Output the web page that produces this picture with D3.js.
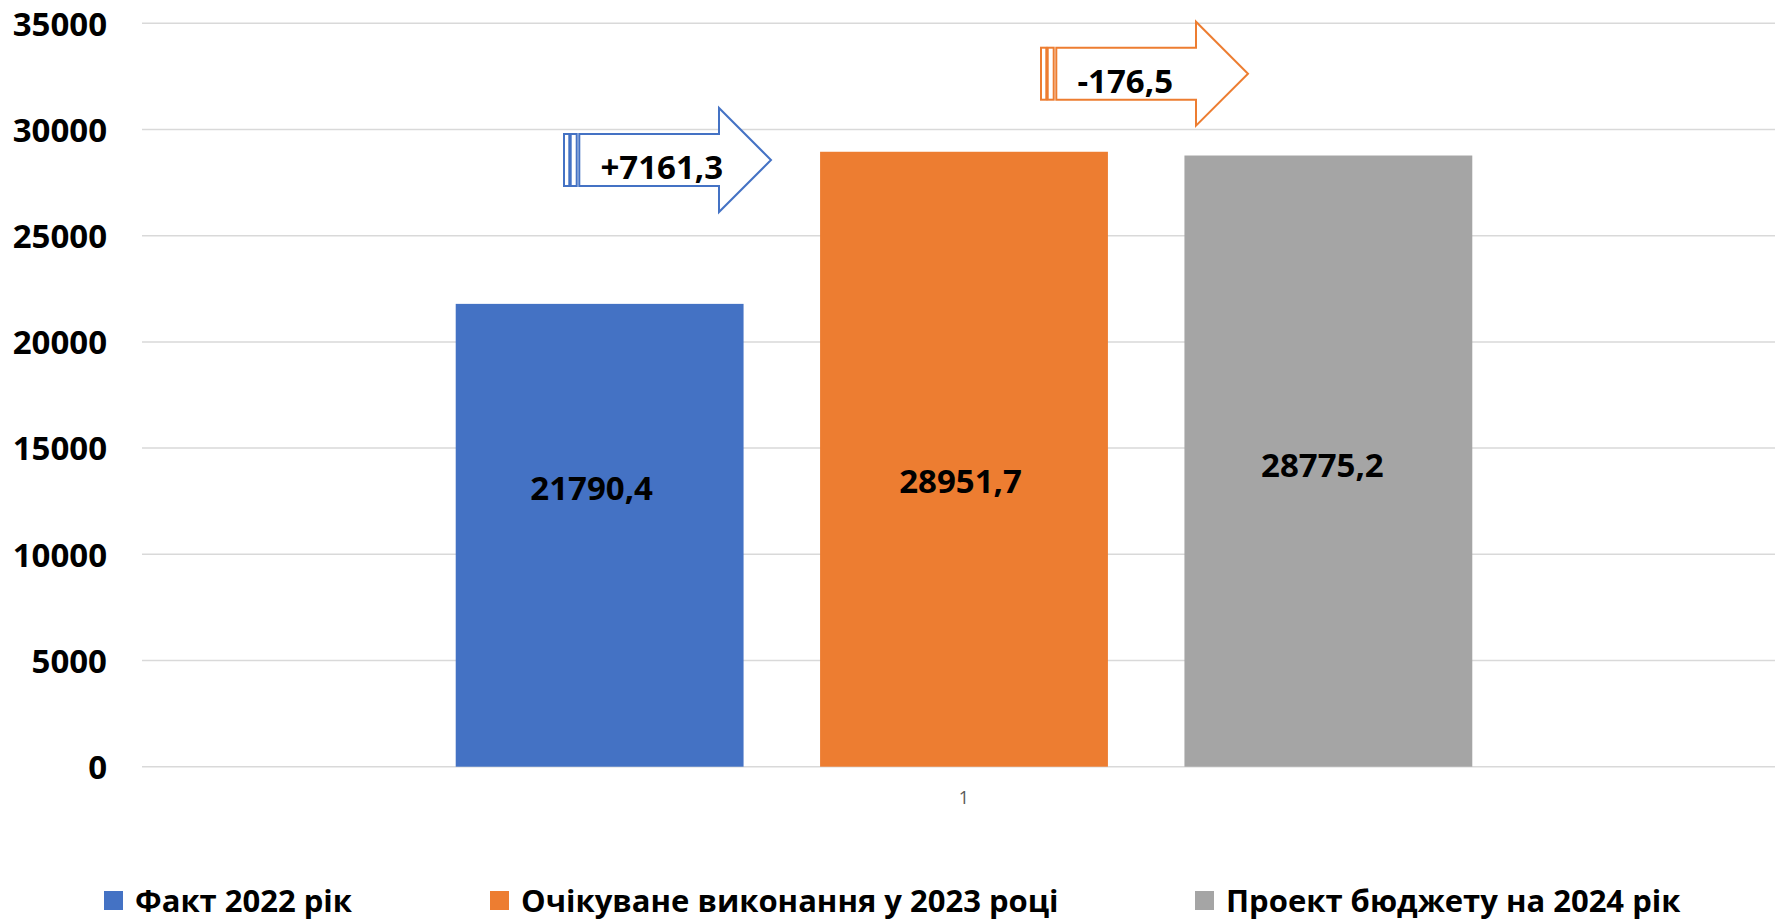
<!DOCTYPE html>
<html>
<head>
<meta charset="utf-8">
<script src="https://cdn.jsdelivr.net/npm/d3@7"></script>
<style>
  html, body { margin: 0; padding: 0; background: #ffffff; }
  svg { display: block; }
  text { font-family: "Open Sans", "Noto Sans", sans-serif; }
</style>
</head>
<body>
<svg id="chart" width="1775" height="920"></svg>
<script>
// ---- data ----
const categories = ["1"];
const seriesNames = ["Факт 2022 рік", "Очікуване виконання у 2023 році", "Проект бюджету на 2024 рік"];
const seriesValues = [21790.4, 28951.7, 28775.2];
const seriesColors = ["#4472C4", "#ED7D31", "#A5A5A5"];
const yTicks = [0, 5000, 10000, 15000, 20000, 25000, 30000, 35000];

// ---- layout ----
const W = 1775, H = 920;
const plot = { left: 142, right: 1786, top: 23.3, bottom: 766.7 };
const svg = d3.select("#chart");

const fmt = v => d3.format(".1f")(v).replace(".", ",").replace("\u2212", "-");
const fmtSigned = v => (v > 0 ? "+" : "") + fmt(v);

const y = d3.scaleLinear().domain([0, 35000]).range([plot.bottom, plot.top]);
const x0 = d3.scaleBand().domain(categories).range([plot.left, plot.right]).paddingInner(0).paddingOuter(0.252);
const x1 = d3.scaleBand().domain(d3.range(seriesValues.length)).range([0, x0.bandwidth()]).paddingInner(0.21).paddingOuter(0.105);

// gridlines
svg.append("g").selectAll("line").data(yTicks).join("line")
  .attr("x1", plot.left).attr("x2", plot.right)
  .attr("y1", d => y(d)).attr("y2", d => y(d))
  .attr("stroke", "#D9D9D9").attr("stroke-width", 1.5);

// y tick labels via axis
const yAxis = svg.append("g").attr("transform", `translate(107,0)`)
  .call(d3.axisLeft(y).tickValues(yTicks).tickSize(0).tickPadding(0).tickFormat(d3.format("d")));
yAxis.select(".domain").remove();
yAxis.selectAll("text")
  .attr("font-family", "'Open Sans', sans-serif")
  .attr("font-size", 33).attr("font-weight", "bold").attr("fill", "#000")
  .attr("dy", "0.36em");

// x axis label
const xAxis = svg.append("g").attr("transform", `translate(0,${plot.bottom})`)
  .call(d3.axisBottom(x0).tickSize(0).tickPadding(0));
xAxis.select(".domain").remove();
xAxis.selectAll("text")
  .attr("font-family", "'Open Sans', sans-serif")
  .attr("font-size", 18).attr("fill", "#595959")
  .attr("dy", 0).attr("y", 37.5);

// bars
const g = svg.append("g").attr("transform", `translate(${x0(categories[0])},0)`);
g.selectAll("rect").data(seriesValues).join("rect")
  .attr("x", (d, i) => x1(i))
  .attr("y", d => y(d))
  .attr("width", x1.bandwidth())
  .attr("height", d => y(0) - y(d))
  .attr("fill", (d, i) => seriesColors[i]);

// value labels
const labelDx = [-8, -3.5, -6];
const labelBaseline = [500, 493.3, 477.3];
g.selectAll("text.val").data(seriesValues).join("text")
  .attr("class", "val")
  .attr("x", (d, i) => x1(i) + x1.bandwidth() / 2 + labelDx[i])
  .attr("y", (d, i) => labelBaseline[i])
  .attr("text-anchor", "middle")
  .attr("font-size", 33).attr("font-weight", "bold").attr("fill", "#000")
  .text(d => fmt(d));

// striped arrows with difference labels
const diffs = d3.pairs(seriesValues).map(([a, b]) => b - a);
const arrowPos = [[564, 108], [1041, 21.7]];
const arrowColors = [seriesColors[0], seriesColors[1]];
const bodyPath = "M15.3,26 L155,26 L155,0 L207,52 L155,104 L155,78 L15.3,78 Z";
diffs.forEach((d, i) => {
  const a = svg.append("g").attr("transform", `translate(${arrowPos[i][0]},${arrowPos[i][1]})`);
  a.append("rect").attr("x", 0).attr("y", 26).attr("width", 5.3).attr("height", 52)
    .attr("fill", "#fff").attr("stroke", arrowColors[i]).attr("stroke-width", 2);
  a.append("rect").attr("x", 6.7).attr("y", 26).attr("width", 6).attr("height", 52)
    .attr("fill", "#fff").attr("stroke", arrowColors[i]).attr("stroke-width", 2);
  a.append("path").attr("d", bodyPath)
    .attr("fill", "#fff").attr("stroke", arrowColors[i]).attr("stroke-width", 2);
  a.append("text").attr("x", 36.5).attr("y", 71)
    .attr("font-size", 33).attr("font-weight", "bold").attr("fill", "#000")
    .text(fmtSigned(d));
});

// legend
const legendX = [104, 490, 1195];
const lg = svg.append("g");
seriesNames.forEach((n, i) => {
  lg.append("rect").attr("x", legendX[i]).attr("y", 891).attr("width", 19).attr("height", 19)
    .attr("fill", seriesColors[i]);
  lg.append("text").attr("x", legendX[i] + 31).attr("y", 912)
    .attr("font-size", 31).attr("font-weight", "bold").attr("fill", "#000")
    .text(n);
});
</script>
</body>
</html>
